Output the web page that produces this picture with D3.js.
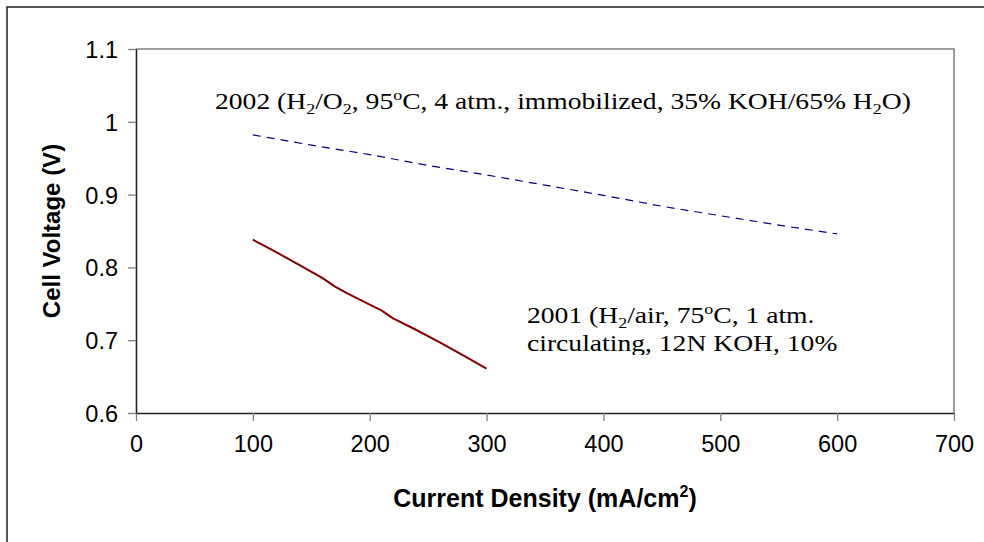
<!DOCTYPE html>
<html><head><meta charset="utf-8">
<script src="https://cdn.jsdelivr.net/npm/d3@7"></script>
<style>body{margin:0;background:#fff}svg{display:block}</style>
</head><body>
<svg id="c" width="984" height="542"></svg>
<script>
const xTicks = [0,100,200,300,400,500,600,700];
const yTicks = [0.6,0.7,0.8,0.9,1,1.1];
const yTickLabels = ["0.6","0.7","0.8","0.9","1","1.1"];
const x2002 = [100,150,200,250,300,350,400,450,500,550,600];
const v2002 = [0.982,0.968,0.955,0.940,0.927,0.913,0.899,0.884,0.871,0.858,0.846];
const x2001 = [100,120,140,160,170,180,200,210,220,240,260,280,300];
const v2001 = [0.838,0.821,0.803,0.785,0.774,0.765,0.749,0.741,0.730,0.714,0.697,0.679,0.661];

const svg = d3.select("#c");
const L=136,R=954,T=49,B=413;
const x = d3.scaleLinear().domain([0,700]).range([L,R]);
const y = d3.scaleLinear().domain([0.6,1.1]).range([B,T]);
const sans = "Liberation Sans, Arial, sans-serif";
const serif = "Liberation Serif, Times New Roman, serif";

svg.append("rect").attr("x",7).attr("y",7).attr("width",1100).attr("height",700)
  .attr("fill","none").attr("stroke","#222").attr("stroke-width",1.5);

svg.append("path").attr("d",`M${L},${T}H${R}V${B}`).attr("fill","none").attr("stroke","#808080").attr("stroke-width",1.5);

const xa = svg.append("g").attr("transform",`translate(0,${B})`)
  .call(d3.axisBottom(x).tickValues(xTicks).tickSize(8).tickSizeOuter(0).tickPadding(10).tickFormat(d3.format("d")));
const ya = svg.append("g").attr("transform",`translate(${L},0)`)
  .call(d3.axisLeft(y).tickValues(yTicks).tickSize(8).tickSizeOuter(0).tickPadding(10).tickFormat((d,i)=>yTickLabels[i]));
[xa,ya].forEach(a=>{
  a.select(".domain").attr("stroke","#222").attr("stroke-width",1.6);
  a.selectAll(".tick line").attr("stroke","#808080").attr("stroke-width",1.3);
  a.selectAll(".tick text").attr("font-family",sans).attr("font-size",23.5).attr("fill","#000");
});
xa.selectAll(".tick text").attr("dy","0.9em");
ya.selectAll(".tick text").attr("dy","0.36em");

const line = d3.line().x(d=>x(d[0])).y(d=>y(d[1]));
svg.append("path").datum(x2002.map((d,i)=>[d,v2002[i]])).attr("d",line)
  .attr("fill","none").attr("stroke","#000080").attr("stroke-width",1.2).attr("stroke-dasharray","8,6");
svg.append("path").datum(x2001.map((d,i)=>[d,v2001[i]])).attr("d",line)
  .attr("fill","none").attr("stroke","#800000").attr("stroke-width",2);

function rich(g, parts, xx, yy, size, sx){
  const t = g.append("text").attr("transform",`translate(${xx},${yy}) scale(${sx},1)`)
    .attr("font-family",serif).attr("font-size",size).attr("fill","#000");
  let shift = 0;
  parts.forEach(p=>{
    let target = 0, txt = p, fs = null;
    if(typeof p !== "string"){
      if(p.sub){ target = size*0.22; txt = p.sub; }
      else { target = -size*0.38; txt = p.sup; }
      fs = size*0.65;
    }
    const ts = t.append("tspan").attr("dy", target - shift).text(txt);
    if(fs) ts.attr("font-size", fs);
    shift = target;
  });
  return t;
}
rich(svg,["2002 (H",{sub:"2"},"/O",{sub:"2"},", 95",{sup:"o"},"C, 4 atm., immobilized, 35% KOH/65% H",{sub:"2"},"O)"],215,109,24,1.15);

svg.append("clipPath").attr("id","cl").append("rect").attr("x",0).attr("y",0).attr("width",984).attr("height",355);
const g2 = svg.append("g").attr("clip-path","url(#cl)");
rich(g2,["2001 (H",{sub:"2"},"/air, 75",{sup:"o"},"C, 1 atm."],527,323,24,1.15);
rich(g2,["circulating, 12N KOH, 10%"],527,351,24,1.15);

svg.append("text").attr("transform","translate(60,231) rotate(-90)").attr("text-anchor","middle")
  .attr("font-family",sans).attr("font-weight","bold").attr("font-size",24).text("Cell Voltage (V)");
const xt = svg.append("text").attr("x",545).attr("y",507).attr("text-anchor","middle")
  .attr("font-family",sans).attr("font-weight","bold").attr("font-size",25);
xt.append("tspan").text("Current Density (mA/cm");
xt.append("tspan").attr("font-size",16).attr("dy",-10).text("2");
xt.append("tspan").attr("dy",10).text(")");
</script>
</body></html>
